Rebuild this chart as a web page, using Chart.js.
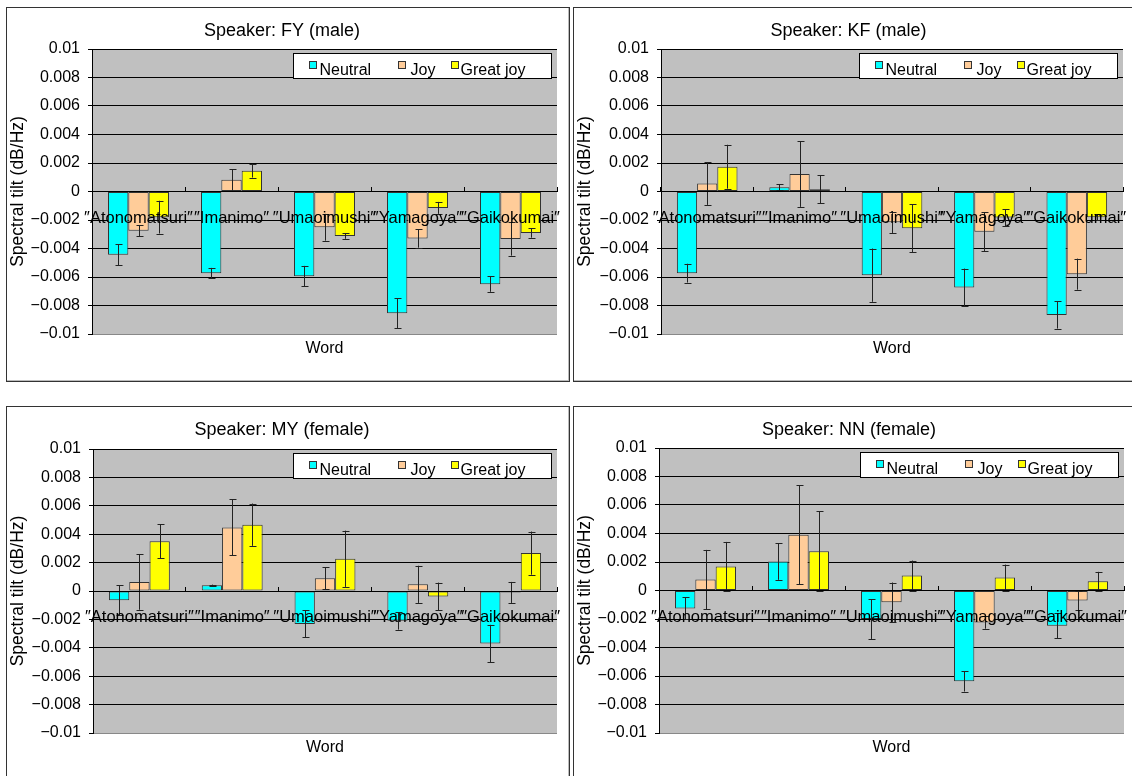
<!DOCTYPE html>
<html><head><meta charset="utf-8">
<script src="https://cdn.jsdelivr.net/npm/chart.js@4.4.1/dist/chart.umd.min.js"></script>
<style>
html,body{margin:0;padding:0;background:#fff;width:1132px;height:776px;overflow:hidden;}
.panel{position:absolute;border:1px solid #333;box-sizing:border-box;box-shadow:inset -1px -1px 0 #bbb;}
.panel canvas{position:absolute;left:0;top:0;}
</style></head><body>
<div class="panel" style="left:6px;top:7px;width:564px;height:375px"><canvas id="c0" width="562" height="373"></canvas></div>
<div class="panel" style="left:573px;top:7px;width:570px;height:375px"><canvas id="c1" width="558" height="373"></canvas></div>
<div class="panel" style="left:6px;top:406px;width:564px;height:380px"><canvas id="c2" width="562" height="369"></canvas></div>
<div class="panel" style="left:573px;top:406px;width:570px;height:380px"><canvas id="c3" width="558" height="369"></canvas></div>
<script>
// ---------- data ----------
const categories = ['″Atonomatsuri″', '″Imanimo″', '″Umaoimushi″', '″Yamagoya″', '″Gaikokumai″'];
const seriesNames = ['Neutral', 'Joy', 'Great joy'];
const seriesColors = ['#00FFFF', '#FFCC99', '#FFFF00'];
const speakerTitles = ['Speaker: FY (male)', 'Speaker: KF (male)', 'Speaker: MY (female)', 'Speaker: NN (female)'];
const yTickValues = [-0.01, -0.008, -0.006, -0.004, -0.002, 0, 0.002, 0.004, 0.006, 0.008, 0.01];
const yTickLabels = ['−0.01', '−0.008', '−0.006', '−0.004', '−0.002', '0', '0.002', '0.004', '0.006', '0.008', '0.01'];
const yAxisTitle = 'Spectral tilt (dB/Hz)';
const xAxisTitle = 'Word';

// Speaker FY
const fyNeutral    = [-0.00444, -0.00573, -0.00594, -0.00854, -0.0065];
const fyNeutralErr = [0.00073, 0.00037, 0.00072, 0.00104, 0.00054];
const fyJoy        = [-0.00275, 0.00082, -0.00251, -0.00329, -0.00333];
const fyJoyErr     = [0.0004, 0.00075, 0.00094, 0.00065, 0.00117];
const fyGreat      = [-0.0018, 0.00146, -0.00312, -0.00115, -0.00291];
const fyGreatErr   = [0.00115, 0.00048, 0.0002, 0.00042, 0.00033];
// Speaker KF
const kfNeutral    = [-0.00573, 0.0003, -0.00587, -0.00674, -0.00866];
const kfNeutralErr = [0.00066, 0.0002, 0.00187, 0.00133, 0.00096];
const kfJoy        = [0.00056, 0.00122, -0.00216, -0.00282, -0.0058];
const kfJoyErr     = [0.0015, 0.0023, 0.00075, 0.00137, 0.00109];
const kfGreat      = [0.00174, 0.00016, -0.00258, -0.00183, -0.0018];
const kfGreatErr   = [0.00154, 0.00097, 0.0017, 0.0006, 0.0002];
// Speaker MY
const myNeutral    = [-0.00066, 0.0004, -0.00232, -0.0021, -0.0037];
const myNeutralErr = [0.00106, 0.00005, 0.00095, 0.00062, 0.00132];
const myJoy        = [0.00063, 0.00448, 0.00089, 0.00047, -0.0001];
const myJoyErr     = [0.00195, 0.00197, 0.00077, 0.00131, 0.00074];
const myGreat      = [0.0035, 0.00467, 0.00227, -0.00038, 0.00267];
const myGreatErr   = [0.00119, 0.00149, 0.00198, 0.00097, 0.00152];
// Speaker NN
const nnNeutral    = [-0.00126, 0.00203, -0.002, -0.00637, -0.00247];
const nnNeutralErr = [0.00077, 0.00128, 0.0014, 0.00072, 0.00089];
const nnJoy        = [0.00077, 0.00392, -0.00082, -0.00224, -0.0007];
const nnJoyErr     = [0.00208, 0.00348, 0.00138, 0.00044, 0.0007];
const nnGreat      = [0.00168, 0.00275, 0.00105, 0.00091, 0.00065];
const nnGreatErr   = [0.00173, 0.00281, 0.00105, 0.00091, 0.00066];

const panelValues = [
  [fyNeutral, fyJoy, fyGreat], [kfNeutral, kfJoy, kfGreat],
  [myNeutral, myJoy, myGreat], [nnNeutral, nnJoy, nnGreat]
];
const panelErrors = [
  [fyNeutralErr, fyJoyErr, fyGreatErr], [kfNeutralErr, kfJoyErr, kfGreatErr],
  [myNeutralErr, myJoyErr, myGreatErr], [nnNeutralErr, nnJoyErr, nnGreatErr]
];

// ---------- layout (per panel) ----------
const layoutCfg = [
  {yw: 85, right: 12, titleTop: 12, titleBottom: 7.4, bottom: 22.8},
  {yw: 87, right: 9,  titleTop: 12, titleBottom: 7.4, bottom: 22.8},
  {yw: 86, right: 12, titleTop: 12, titleBottom: 8.4, bottom: 18.8},
  {yw: 85, right: 8,  titleTop: 12, titleBottom: 7.4, bottom: 18.8}
];

const FONT = "'Liberation Sans', 'Noto Sans CJK JP', Arial, sans-serif";
Chart.defaults.font.family = FONT;
Chart.defaults.font.size = 16;
Chart.defaults.color = '#000';

const plotBg = {
  id: 'plotBg',
  beforeDraw(chart) {
    const {ctx, chartArea: a} = chart;
    ctx.save();
    ctx.fillStyle = '#C0C0C0';
    ctx.fillRect(a.left, a.top, a.right - a.left, a.bottom - a.top);
    ctx.restore();
  }
};

const errorBars = {
  id: 'errorBars',
  afterDatasetsDraw(chart) {
    const {ctx} = chart;
    const ys = chart.scales.y;
    ctx.save();
    ctx.strokeStyle = '#222';
    ctx.lineWidth = 1;
    chart.data.datasets.forEach((ds, i) => {
      const meta = chart.getDatasetMeta(i);
      meta.data.forEach((bar, j) => {
        const v = ds.data[j], e = ds.errors[j];
        const x = Math.round(bar.x) + 0.5;
        const y1 = ys.getPixelForValue(v + e), y2 = ys.getPixelForValue(v - e);
        ctx.beginPath();
        ctx.moveTo(x, y1); ctx.lineTo(x, y2);
        ctx.moveTo(x - 3, Math.round(y1) + 0.5); ctx.lineTo(x + 4, Math.round(y1) + 0.5);
        ctx.moveTo(x - 3, Math.round(y2) + 0.5); ctx.lineTo(x + 4, Math.round(y2) + 0.5);
        ctx.stroke();
      });
    });
    ctx.restore();
  }
};

const boxLegend = {
  id: 'boxLegend',
  afterDraw(chart) {
    const {ctx, chartArea: a} = chart;
    const w = 258, h = 25;
    const lx = Math.round(a.right - 6 - w) + 0.5, ly = Math.round(a.top + 4) + 0.5;
    ctx.save();
    ctx.fillStyle = '#fff';
    ctx.fillRect(lx, ly, w, h);
    ctx.strokeStyle = '#000';
    ctx.lineWidth = 1;
    ctx.strokeRect(lx, ly, w, h);
    const swatchX = [16, 105, 158];
    const textX = [26, 117, 167];
    ctx.font = "16px " + FONT;
    ctx.textBaseline = 'alphabetic';
    ctx.textAlign = 'left';
    chart.data.datasets.forEach((ds, i) => {
      ctx.fillStyle = ds.backgroundColor;
      ctx.fillRect(lx + swatchX[i], ly + 8, 7, 7);
      ctx.strokeStyle = '#333';
      ctx.strokeRect(lx + swatchX[i], ly + 8, 7, 7);
      ctx.fillStyle = '#000';
      ctx.fillText(ds.label, lx + textX[i], ly + 21);
    });
    ctx.restore();
  }
};

for (let p = 0; p < 4; p++) {
  const L = layoutCfg[p];
  const datasets = seriesNames.map((name, s) => ({
    label: name,
    data: panelValues[p][s],
    errors: panelErrors[p][s],
    backgroundColor: seriesColors[s],
    borderColor: '#333',
    borderWidth: 1,
    borderSkipped: false,
    categoryPercentage: 0.656,
    barPercentage: 1.0
  }));
  new Chart(document.getElementById('c' + p), {
    type: 'bar',
    data: {labels: categories, datasets},
    plugins: [plotBg, errorBars, boxLegend],
    options: {
      responsive: false,
      animation: false,
      events: [],
      layout: {padding: {left: 0, right: L.right, top: 0, bottom: L.bottom}},
      plugins: {
        legend: {display: false},
        tooltip: {enabled: false},
        title: {
          display: true, text: speakerTitles[p], color: '#000',
          font: {size: 18, weight: 'normal'},
          padding: {top: L.titleTop, bottom: L.titleBottom}
        }
      },
      scales: {
        y: {
          type: 'linear', position: 'left', min: -0.01, max: 0.01,
          afterFit(axis) { axis.width = L.yw; },
          afterBuildTicks(axis) { axis.ticks = yTickValues.map(v => ({value: v})); },
          ticks: {
            padding: 8, color: '#000', font: {size: 16},
            callback: (v, i) => yTickLabels[i]
          },
          grid: {
            color: ctx => (ctx.tick && ctx.tick.value === -0.01) ? '#888' : '#000',
            lineWidth: 1, drawTicks: true, tickLength: 4, tickColor: '#000'
          },
          border: {display: true, color: '#000', width: 1},
          title: {display: true, text: yAxisTitle, color: '#000', font: {size: 17.5}, padding: {top: 1, bottom: 0}}
        },
        x: {
          type: 'category', position: {y: 0}, offset: true,
          afterFit(axis) { axis.paddingLeft = 0; axis.paddingRight = 0; },
          grid: {display: true, drawOnChartArea: false, drawTicks: true, tickLength: -5, color: '#000', offset: true, z: 1},
          border: {display: true, color: '#000', width: 1, z: 1},
          ticks: {autoSkip: false, maxRotation: 0, minRotation: 0, padding: 22, color: '#000', font: {size: 16.5}, z: 1}
        },
        x2: {
          type: 'category', position: 'bottom', offset: true,
          afterFit(axis) { axis.paddingLeft = 0; axis.paddingRight = 0; },
          grid: {display: false, drawTicks: false},
          border: {display: false},
          ticks: {display: false},
          title: {display: true, text: xAxisTitle, color: '#000', font: {size: 16}, padding: {top: 5, bottom: 0}}
        }
      }
    }
  });
}
</script>
</body></html>
